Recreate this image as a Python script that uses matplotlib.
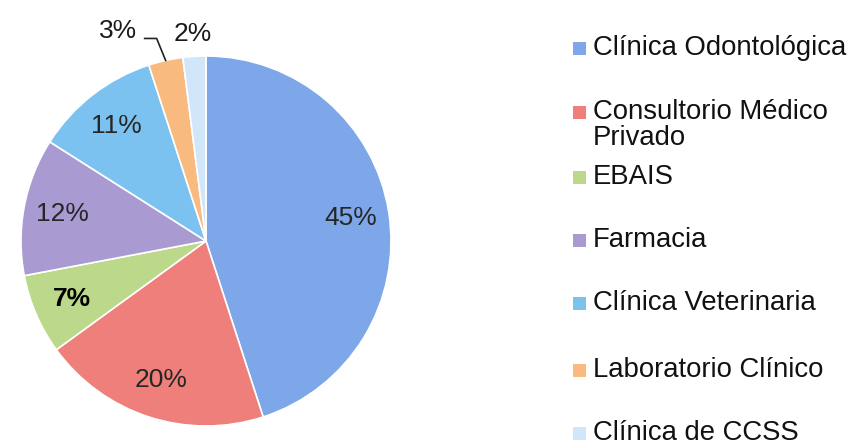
import numpy as np
import matplotlib
matplotlib.use("Agg")
import matplotlib.pyplot as plt
from matplotlib.patches import Rectangle

plt.rcParams['font.family'] = ['Liberation Sans', 'DejaVu Sans']

categories = ["Clínica Odontológica", "Consultorio Médico\nPrivado", "EBAIS",
              "Farmacia", "Clínica Veterinaria", "Laboratorio Clínico",
              "Clínica de CCSS"]
shares = [45, 20, 7, 12, 11, 3, 2]
colors = ["#7DA7E9", "#EE7F7A", "#BCD88A", "#AA9AD2", "#7CC2F0", "#F9BA7F", "#D2E6FA"]

W, H = 851, 445
fig = plt.figure(figsize=(W / 100, H / 100), dpi=100)
ax = fig.add_axes([0, 0, 1, 1])

cx, cy, R = 206, H - 241, 185
wedges, _ = ax.pie(shares, colors=colors, startangle=90, counterclock=False,
                   center=(cx, cy), radius=R, frame=False,
                   wedgeprops=dict(edgecolor='white', linewidth=1.2))
ax.set_xlim(0, W)
ax.set_ylim(0, H)
ax.set_aspect('equal')
ax.axis('off')

# value labels
lab_fs = 19
for i, (w, v) in enumerate(zip(wedges, shares)):
    mid = np.deg2rad((w.theta1 + w.theta2) / 2)
    txt = f"{v}%"
    weight = 'bold' if v == 7 else 'normal'
    col = 'black' if v == 7 else '#262626'
    if v >= 5:
        x, y = cx + 0.79 * R * np.cos(mid), cy + 0.79 * R * np.sin(mid)
        ax.text(x, y, txt, ha='center', va='center', fontsize=lab_fs,
                color=col, fontweight=weight)
    elif v == 2:
        x, y = cx + 1.12 * R * np.cos(mid), cy + 1.12 * R * np.sin(mid)
        ax.text(x, y, txt, ha='center', va='center', fontsize=lab_fs, color='#1a1a1a')
    else:
        ex, ey = cx + R * np.cos(mid), cy + R * np.sin(mid)
        ax.plot([ex, ex - 9, ex - 21], [ey, ey + 22, ey + 22], color='#222222', lw=1.2)
        ax.text(ex - 48, ey + 29, txt, ha='center', va='center', fontsize=lab_fs,
                color='#1a1a1a')

# legend
rows = [48, 112, 177, 240, 303, 370, 433]
for lab, col, ry in zip(categories, colors, rows):
    ax.add_patch(Rectangle((573, H - ry - 6.5), 13, 13, facecolor=col, edgecolor='none'))
    for k, line in enumerate(lab.split("\n")):
        ax.text(593, H - ry - 26 * k, line, ha='left', va='center',
                fontsize=19.8, color='#111111')

fig.savefig("out.png", dpi=100, facecolor='white')
